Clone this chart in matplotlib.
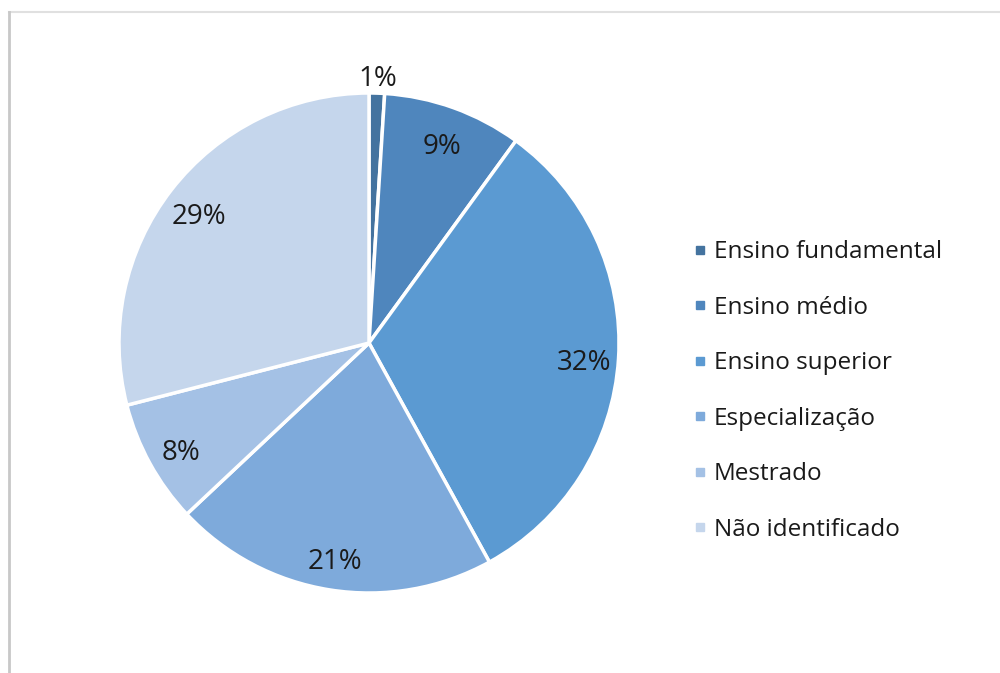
import numpy as np
import matplotlib.pyplot as plt
from matplotlib.lines import Line2D

# dados do gráfico
categorias = ["Ensino fundamental", "Ensino médio", "Ensino superior",
              "Especialização", "Mestrado", "Não identificado"]
percentuais = [1, 9, 32, 21, 8, 29]
cores = ["#44739f", "#4f86bd", "#5b9ad2", "#7eaadb", "#a4c1e5", "#c5d6ec"]

plt.rcParams['font.family'] = ['Open Sans', 'DejaVu Sans']

fig = plt.figure(figsize=(10, 6.73), dpi=100)

# moldura cinza (topo e esquerda)
fig.add_artist(Line2D([0.009, 1.0], [1 - 12/673, 1 - 12/673], color="#e0e0e0", lw=1.5))
fig.add_artist(Line2D([0.009, 0.009], [0.0, 1 - 12/673], color="#c8c8c8", lw=2.0))

# pizza: centro ~ (369, 343) px, raio ~ 250 px
ax = fig.add_axes([119/1000, 1 - 593/673, 500/1000, 500/673])
wedges, _ = ax.pie(percentuais, colors=cores, startangle=90, counterclock=False,
                   wedgeprops=dict(edgecolor="white", linewidth=2.5))
ax.set_xlim(-1, 1)
ax.set_ylim(-1, 1)
ax.set_aspect("equal")
ax.axis("off")

# rótulos de porcentagem
acum = 0
for v in percentuais:
    meio = 90 - (acum + v / 2) * 3.6
    acum += v
    r = 1.08 if v < 3 else 0.86
    x = r * np.cos(np.radians(meio))
    y = r * np.sin(np.radians(meio)) - 0.025
    ax.text(x, y, f"{v}%", ha="center", va="center", fontsize=20, color="#1a1a1a",
            clip_on=False)

# legenda
handles = [Line2D([], [], marker="s", linestyle="", markersize=6,
                  markerfacecolor=c, markeredgecolor=c) for c in cores]
fig.legend(handles, categorias, loc="center left", bbox_to_anchor=(0.670, 0.419),
           frameon=False, fontsize=17.5, labelspacing=1.3, handletextpad=0.2,
           handlelength=0.7, labelcolor="#1a1a1a")

fig.savefig("out.png", dpi=100, facecolor="white")
